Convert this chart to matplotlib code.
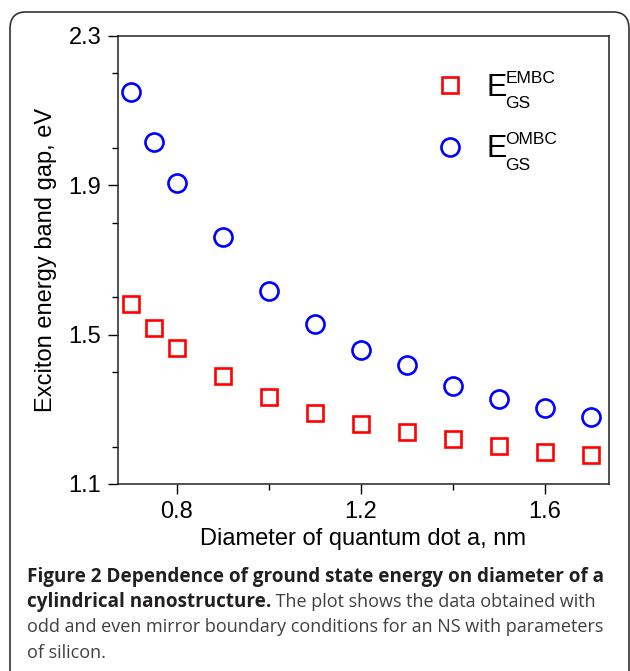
import matplotlib
matplotlib.use("Agg")
import matplotlib.pyplot as plt
from matplotlib.patches import FancyBboxPatch
from matplotlib.ticker import MultipleLocator

plt.rcParams['font.family'] = ['Liberation Sans', 'DejaVu Sans']

# Data
diameter = [0.70, 0.75, 0.80, 0.90, 1.00, 1.10, 1.20, 1.30, 1.40, 1.50, 1.60, 1.70]
e_embc = [1.581, 1.518, 1.464, 1.388, 1.332, 1.291, 1.262, 1.238, 1.220, 1.201, 1.186, 1.178]
e_ombc = [2.151, 2.017, 1.905, 1.762, 1.617, 1.529, 1.458, 1.419, 1.362, 1.329, 1.303, 1.279]
label_main = 'E'
label_sub = 'GS'
label_sups = ['EMBC', 'OMBC']
xticks = [0.8, 1.2, 1.6]
yticks = [1.1, 1.5, 1.9, 2.3]

W, H = 630, 671
fig = plt.figure(figsize=(W / 100, H / 100), dpi=100)

# rounded frame
frame = FancyBboxPatch((10 / W, -20 / H), 619 / W, (H - 12 + 20) / H,
                       boxstyle="round,pad=0,rounding_size=0.025",
                       transform=fig.transFigure, fill=False,
                       edgecolor='#333333', linewidth=1.2)
fig.patches.append(frame)

ax = fig.add_axes([118 / W, 1 - 484 / H, (609 - 118) / W, (484 - 36) / H])
ax.plot(diameter, e_embc, linestyle='none', marker='s', markersize=11,
        markerfacecolor='none', markeredgecolor='#ff0000', markeredgewidth=1.9,
        label=label_main)
ax.plot(diameter, e_ombc, linestyle='none', marker='o', markersize=13,
        markerfacecolor='none', markeredgecolor='#0000ff', markeredgewidth=1.9,
        label=label_main)

ax.set_xlim(0.672, 1.739)
ax.set_ylim(1.1, 2.3)
ax.set_xticks(xticks)
ax.set_yticks(yticks)
ax.xaxis.set_minor_locator(MultipleLocator(0.2))
ax.yaxis.set_minor_locator(MultipleLocator(0.2))
ax.tick_params(which='major', direction='out', length=7, width=1.0,
               labelsize=17, pad=5, top=False, right=False)
ax.tick_params(which='minor', direction='out', length=4, width=1.0,
               top=False, right=False)
for s in ax.spines.values():
    s.set_linewidth(1.1)
    s.set_color('#222222')

ax.set_xlabel('Diameter of quantum dot a, nm', fontsize=17, labelpad=4)
ax.set_ylabel('Exciton energy band gap, eV', fontsize=17, labelpad=8)

leg = ax.legend(loc='upper left', bbox_to_anchor=((435 - 118) / 491, 1 - (73 - 36) / 448),
                frameon=False, fontsize=22, handletextpad=0.68, labelspacing=1.03,
                borderaxespad=0, borderpad=0, handlelength=1.0)
for txt, sup in zip(leg.get_texts(), label_sups):
    ax.annotate(sup, xy=(1, 0), xycoords=txt, xytext=(-0.8, 14.4),
                textcoords='offset points', fontsize=12.5, va='baseline', ha='left')
    ax.annotate(label_sub, xy=(1, 0), xycoords=txt, xytext=(-0.8, -3.8),
                textcoords='offset points', fontsize=12.5, va='baseline', ha='left')

# caption
bold_fs = 13.6
reg_fs = 13.0
cap_font = ['Open Sans', 'DejaVu Sans']
dark = '#231f20'
gray = '#404040'
x0 = 27 / W
base = [582, 607, 632, 658]
fig.text(x0, 1 - base[0] / H, 'Figure 2 Dependence of ground state energy on diameter of a',
         fontsize=bold_fs, family=cap_font, weight='bold', color=dark, va='baseline')
t2 = fig.text(x0, 1 - base[1] / H, 'cylindrical nanostructure.',
              fontsize=bold_fs, family=cap_font, weight='bold', color=dark, va='baseline')
fig.canvas.draw()
bb = t2.get_window_extent()
fig.text(bb.x1 / W, 1 - base[1] / H, ' The plot shows the data obtained with',
         fontsize=reg_fs, family=cap_font, color=gray, va='baseline')
fig.text(x0, 1 - base[2] / H, 'odd and even mirror boundary conditions for an NS with parameters',
         fontsize=reg_fs, family=cap_font, color=gray, va='baseline')
fig.text(x0, 1 - base[3] / H, 'of silicon.',
         fontsize=reg_fs, family=cap_font, color=gray, va='baseline')

fig.savefig('out.png', dpi=100)
